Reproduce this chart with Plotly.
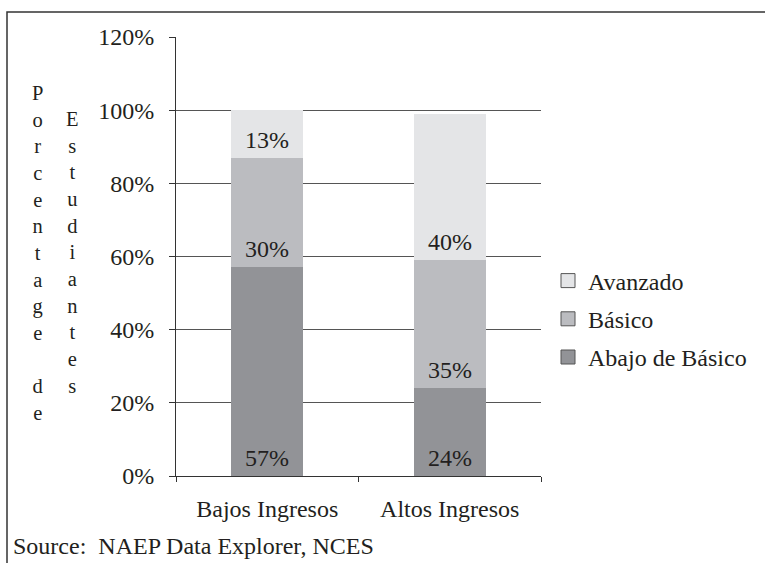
import plotly.graph_objects as go

# Student performance by income group (percent of students)
categories = ["Bajos Ingresos", "Altos Ingresos"]
abajo_de_basico = [57, 24]
basico = [30, 35]
avanzado = [13, 40]

series_names = ["Abajo de Básico", "Básico", "Avanzado"]
series_values = [abajo_de_basico, basico, avanzado]
series_colors = ["#929397", "#bbbcc0", "#e4e5e7"]

y_ticks = [0, 20, 40, 60, 80, 100, 120]
y_tick_labels = [f"{v}%" for v in y_ticks]

FONT = "Liberation Serif"
TXT = "#231f20"
FS = 24

W, H = 765, 563
L, R, T, B = 176, 541, 37, 476  # plot-area pixel bounds
pw, ph = R - L, B - T


def px_x(x):
    return (x - L) / pw


def px_y(y):
    return (B - y) / ph


fig = go.Figure()

bases = [0] * len(categories)
annotations = []
for name, vals, col in zip(series_names, series_values, series_colors):
    fig.add_trace(go.Bar(
        x=categories, y=vals, base=bases[:], name=name,
        marker=dict(color=col, line=dict(width=0)),
        showlegend=False, hoverinfo="skip",
    ))
    for c, v, b in zip(categories, vals, bases):
        annotations.append(dict(
            x=c, y=b, xref="x", yref="y", text=f"{v}%", showarrow=False,
            yanchor="middle", yshift=18, font=dict(family=FONT, size=FS, color=TXT),
        ))
    bases = [b + v for b, v in zip(bases, vals)]

# legend entries (square swatches with a thin outline)
for i, (name, col) in enumerate(zip(series_names, series_colors)):
    fig.add_trace(go.Scatter(
        x=[None], y=[None], mode="markers", name=name, legendgroup=name,
        marker=dict(symbol="square", size=14, color=col, line=dict(color="#555555", width=1)),
        legendrank=3 - i,
    ))

# vertical, letter-stacked axis title in two columns
col1 = "<br>".join(list("Porcentage") + ["&nbsp;"] + list("de"))
col2 = "<br>".join(list("Estudiantes"))
for xp, txt in ((37, col1), (72, col2)):
    annotations.append(dict(
        x=px_x(xp), y=px_y(253), xref="paper", yref="paper", text=txt,
        showarrow=False, xanchor="center", yanchor="middle", align="center",
        font=dict(family=FONT, size=20.5, color=TXT),
    ))

annotations.append(dict(
    x=px_x(11), y=px_y(546), xref="paper", yref="paper",
    text="Source:  NAEP Data Explorer, NCES", showarrow=False,
    xanchor="left", yanchor="middle", font=dict(family=FONT, size=FS, color=TXT),
))

fig.update_layout(
    width=W, height=H,
    margin=dict(l=L, r=W - R, t=T, b=H - B, pad=0),
    paper_bgcolor="white", plot_bgcolor="white",
    barmode="stack", bargap=0.605,
    font=dict(family=FONT, size=FS, color=TXT),
    annotations=annotations,
    legend=dict(
        x=px_x(548), y=px_y(319), xanchor="left", yanchor="middle",
        font=dict(family=FONT, size=FS, color=TXT), tracegroupgap=4,
        itemwidth=30, bgcolor="rgba(0,0,0,0)",
    ),
    shapes=[dict(
        type="path", xref="paper", yref="paper",
        path=f"M {px_x(7)},{px_y(575)} L {px_x(7)},{px_y(12)} L {px_x(770)},{px_y(12)}",
        line=dict(color="#333333", width=1.5),
    )],
)

fig.update_xaxes(
    type="category", range=[-0.5, 1.5], showgrid=False,
    showline=True, linecolor="#333333", linewidth=1,
    ticks="outside", tickson="boundaries", ticklen=5, tickcolor="#333333",
    tickfont=dict(family=FONT, size=FS, color=TXT), ticklabelstandoff=11,
)
fig.update_yaxes(
    range=[0, 120], tickvals=y_ticks, ticktext=y_tick_labels,
    showgrid=True, gridcolor="#555555", gridwidth=1,
    showline=True, linecolor="#333333", linewidth=1, zeroline=False,
    ticks="outside", ticklen=6, tickcolor="#333333",
    tickfont=dict(family=FONT, size=FS, color=TXT), ticklabelstandoff=10,
)

fig.write_html("out.html")
